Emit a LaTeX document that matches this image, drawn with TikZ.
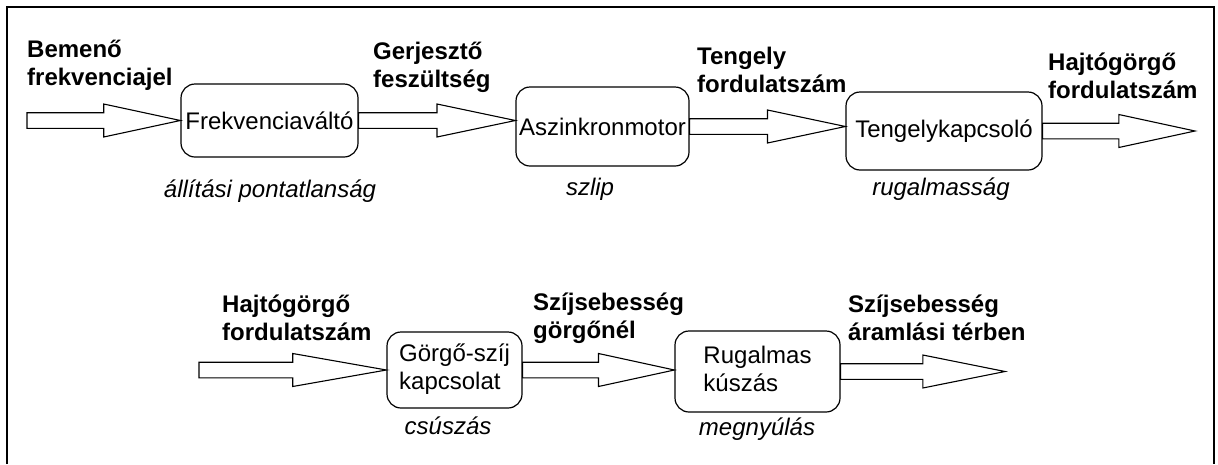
\documentclass[tikz,border=0pt]{standalone}
\usepackage{fontspec}
\setmainfont{Liberation Sans}
\usetikzlibrary{calc}
\tikzset{
  every node/.style={font=\fontsize{24}{28}\selectfont, text=black},
  procbox/.style={draw, line width=1.2pt, rounded corners=14pt, inner sep=0pt},
  sig/.style={anchor=base west, inner sep=0pt, font=\fontsize{24}{28}\selectfont\bfseries},
  dist/.style={anchor=base, inner sep=0pt, font=\fontsize{24}{28}\selectfont\itshape},
  barrow/.style={draw, line width=1.1pt, fill=white, line join=miter},
  frameline/.style={draw, line width=2.2pt}
}
\newcommand\blockarrow[2]{%
  \path[barrow] ($(#1)+(0,-7.8)$) -- ($(#1)!0.5!(#2)+(0,-7.8)$) -- ($(#1)!0.5!(#2)+(0,-16.5)$)
    -- (#2) -- ($(#1)!0.5!(#2)+(0,16.5)$) -- ($(#1)!0.5!(#2)+(0,7.8)$) -- ($(#1)+(0,7.8)$) -- cycle;}
\begin{document}
\begin{tikzpicture}[x=1pt,y=-1pt]
\useasboundingbox (0,0) rectangle (1218,464);
\draw[frameline] (7,464) -- (7,7) -- (1214,7) -- (1214,464);

% boxes
\node[procbox, minimum width=177pt, minimum height=73pt] (b1) at (269.5,120.5) {Frekvenciaváltó};
\node[procbox, minimum width=173pt, minimum height=79pt] (b2) at (602.5,126.5) {Aszinkronmotor};
\node[procbox, minimum width=196pt, minimum height=78pt] (b3) at (944,131) {Tengelykapcsoló};
\node[procbox, minimum width=135pt, minimum height=76pt] (b4) at (454.5,370) {\begin{tabular}{@{}l@{}}Görgő-szíj\\kapcsolat\end{tabular}};
\node[procbox, minimum width=165pt, minimum height=81pt] (b5) at (757.5,371.5) {\begin{tabular}{@{}l@{}}Rugalmas\\kúszás\end{tabular}};

% free ends
\coordinate (in1) at (27,120.5);
\coordinate (out1) at (1195,131);
\coordinate (in2) at (199,370);
\coordinate (out2) at (1005,371.5);
\coordinate (t1) at (b1.west |- in1);
\coordinate (t2) at (b2.west |- b1.east);
\coordinate (t3) at (b3.west |- b2.east);
\coordinate (t4) at (b4.west |- in2);
\coordinate (t5) at (b5.west |- b4.east);

% arrows
\blockarrow{in1}{t1}
\blockarrow{b1.east}{t2}
\blockarrow{b2.east}{t3}
\blockarrow{b3.east}{out1}
\blockarrow{in2}{t4}
\blockarrow{b4.east}{t5}
\blockarrow{b5.east}{out2}

% signal labels
\node[sig] (l1) at (27,57) {\begin{tabular}[t]{@{}l@{}}Bemenő\\frekvenciajel\end{tabular}};
\node[sig] (l2) at (373,59) {\begin{tabular}[t]{@{}l@{}}Gerjesztő\\feszültség\end{tabular}};
\node[sig] (l3) at (697,64) {\begin{tabular}[t]{@{}l@{}}Tengely\\fordulatszám\end{tabular}};
\node[sig] (l4) at (1048,70) {\begin{tabular}[t]{@{}l@{}}Hajtógörgő\\fordulatszám\end{tabular}};
\node[sig] (l5) at (222,312) {\begin{tabular}[t]{@{}l@{}}Hajtógörgő\\fordulatszám\end{tabular}};
\node[sig] (l6) at (533,310) {\begin{tabular}[t]{@{}l@{}}Szíjsebesség\\görgőnél\end{tabular}};
\node[sig] (l7) at (848,312) {\begin{tabular}[t]{@{}l@{}}Szíjsebesség\\áramlási térben\end{tabular}};

% disturbance labels
\node[dist] (d1) at (270,197) {állítási pontatlanság};
\node[dist] (d2) at (590,195) {szlip};
\node[dist] (d3) at (941,195) {rugalmasság};
\node[dist] (d4) at (448,434) {csúszás};
\node[dist] (d5) at (757,435) {megnyúlás};
\end{tikzpicture}
\end{document}
